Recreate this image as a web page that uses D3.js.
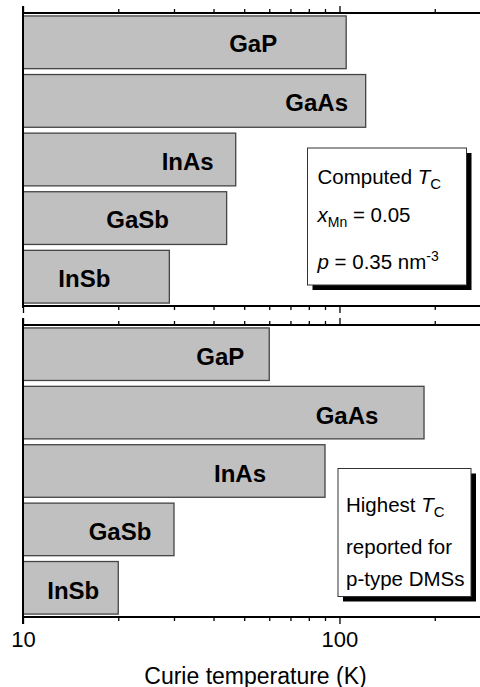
<!DOCTYPE html>
<html>
<head>
<meta charset="utf-8">
<script src="https://cdn.jsdelivr.net/npm/d3@7"></script>
<style>
  html, body { margin: 0; padding: 0; background: #fff; }
  svg { display: block; font-family: Arial, "Liberation Sans", Helvetica, sans-serif; }
</style>
</head>
<body>
<svg id="chart" width="480" height="687"></svg>
<script>
// Host semiconductors, listed top to bottom in each panel
const materials = ["GaP", "GaAs", "InAs", "GaSb", "InSb"];
// Computed Curie temperatures (K), x_Mn = 0.05, p = 0.35 nm^-3
const computedTc = [105, 121, 47, 44, 29];
// Highest Curie temperatures reported for p-type DMSs (K)
const highestTc = [60, 185, 90, 30, 20];
// Log-axis tick values and the ones that carry a label
const tickValues = [10, 20, 30, 40, 50, 60, 70, 80, 90, 100, 200];
const labelledTicks = [10, 100];

// Horizontal nudge of each bar label relative to the bar end (px)
const computedLabelShift = [-93, -49, -48, -89, -85];
const highestLabelShift = [-49, -77, -85, -54, -45];

const svg = d3.select("#chart");
const left = 23, right = 480;

const x = d3.scaleLog().domain([10, 278]).range([left, right]);

const panels = [
  { values: computedTc, shifts: computedLabelShift, y0: 13, y1: 306,
    lines: "computed", box: { x: 307.5, y: 148, w: 159, h: 137 } },
  { values: highestTc, shifts: highestLabelShift, y0: 325, y1: 617,
    lines: "highest", box: { x: 338, y: 468.5, w: 133, h: 128 } }
];

const isMajor = v => v === 10 || v === 100;

function styleAxis(g, dir) {
  g.select(".domain").remove();
  g.selectAll(".tick line")
    .attr("stroke", "#000")
    .attr("stroke-width", 1.3)
    .attr("y2", d => dir * (isMajor(d) ? 7 : 4));
}

panels.forEach((p, pi) => {
  const y = d3.scaleBand().domain(materials).range([p.y0, p.y1])
    .paddingInner(0.1).paddingOuter(0.05);
  const g = svg.append("g");

  // bars
  g.selectAll("rect.bar")
    .data(materials)
    .join("rect")
    .attr("class", "bar")
    .attr("x", left)
    .attr("y", d => y(d))
    .attr("width", (d, i) => x(p.values[i]) - left)
    .attr("height", y.bandwidth())
    .attr("fill", "#c0c0c0")
    .attr("stroke", "#444")
    .attr("stroke-width", 1.3);

  // bar labels
  g.selectAll("text.lbl")
    .data(materials)
    .join("text")
    .attr("class", "lbl")
    .attr("x", (d, i) => x(p.values[i]) + p.shifts[i])
    .attr("y", d => y(d) + y.bandwidth() / 2 + 10 + pi)
    .attr("text-anchor", "middle")
    .attr("font-weight", "bold")
    .attr("font-size", 24)
    .attr("fill", "#000")
    .text(d => d);

  // top axis
  const top = g.append("g").attr("transform", `translate(0,${p.y0})`)
    .call(d3.axisTop(x).tickValues(tickValues).tickFormat(""));
  styleAxis(top, -1);

  // bottom axis
  const bottom = g.append("g").attr("transform", `translate(0,${p.y1})`)
    .call(d3.axisBottom(x).tickValues(tickValues)
      .tickFormat(d => (pi === 1 && labelledTicks.includes(d)) ? String(d) : ""));
  styleAxis(bottom, 1);
  bottom.selectAll(".tick text")
    .attr("y", 30).attr("dy", 0)
    .attr("font-size", 22)
    .attr("font-family", "Arial, 'Liberation Sans', sans-serif")
    .attr("fill", "#000");

  // axis lines
  g.append("line").attr("x1", left).attr("x2", right)
    .attr("y1", p.y0).attr("y2", p.y0)
    .attr("stroke", "#000").attr("stroke-width", 2);
  g.append("line").attr("x1", left).attr("x2", right)
    .attr("y1", p.y1).attr("y2", p.y1)
    .attr("stroke", "#000").attr("stroke-width", 2);
  g.append("line").attr("x1", left).attr("x2", left)
    .attr("y1", p.y0 - 7).attr("y2", p.y1 + (pi === 1 ? 7 : 2))
    .attr("stroke", "#000").attr("stroke-width", 2);

  // annotation box with drop shadow
  const b = p.box;
  g.append("rect").attr("x", b.x + 5).attr("y", b.y + 5)
    .attr("width", b.w).attr("height", b.h).attr("fill", "#000");
  g.append("rect").attr("x", b.x).attr("y", b.y)
    .attr("width", b.w).attr("height", b.h)
    .attr("fill", "#fff").attr("stroke", "#333").attr("stroke-width", 1);

  const tx = b.x + 10;
  const fs = 20.5;
  if (p.lines === "computed") {
    const t1 = g.append("text").attr("x", tx).attr("y", 183.5).attr("font-size", fs);
    t1.append("tspan").text("Computed ");
    t1.append("tspan").attr("font-style", "italic").text("T");
    t1.append("tspan").attr("font-size", 15).attr("dy", 5).text("C");

    const t2 = g.append("text").attr("x", tx).attr("y", 221.5).attr("font-size", fs);
    t2.append("tspan").attr("font-style", "italic").text("x");
    t2.append("tspan").attr("font-size", 14).attr("dy", 5).text("Mn");
    t2.append("tspan").attr("dy", -5).text(" = 0.05");

    const t3 = g.append("text").attr("x", tx).attr("y", 269).attr("font-size", fs);
    t3.append("tspan").attr("font-style", "italic").text("p");
    t3.append("tspan").text(" = 0.35 nm");
    t3.append("tspan").attr("font-size", 14).attr("dy", -8).text("-3");
  } else {
    const t1 = g.append("text").attr("x", tx - 2).attr("y", 511.5).attr("font-size", fs);
    t1.append("tspan").text("Highest ");
    t1.append("tspan").attr("font-style", "italic").text("T");
    t1.append("tspan").attr("font-size", 15).attr("dy", 5).text("C");

    g.append("text").attr("x", tx - 2).attr("y", 553.5).attr("font-size", fs)
      .text("reported for");
    g.append("text").attr("x", tx - 2).attr("y", 585.5).attr("font-size", fs)
      .text("p-type DMSs");
  }
});

// x-axis title
svg.append("text")
  .attr("x", 255.5).attr("y", 684)
  .attr("text-anchor", "middle")
  .attr("font-size", 23)
  .attr("fill", "#000")
  .text("Curie temperature (K)");
</script>
</body>
</html>
